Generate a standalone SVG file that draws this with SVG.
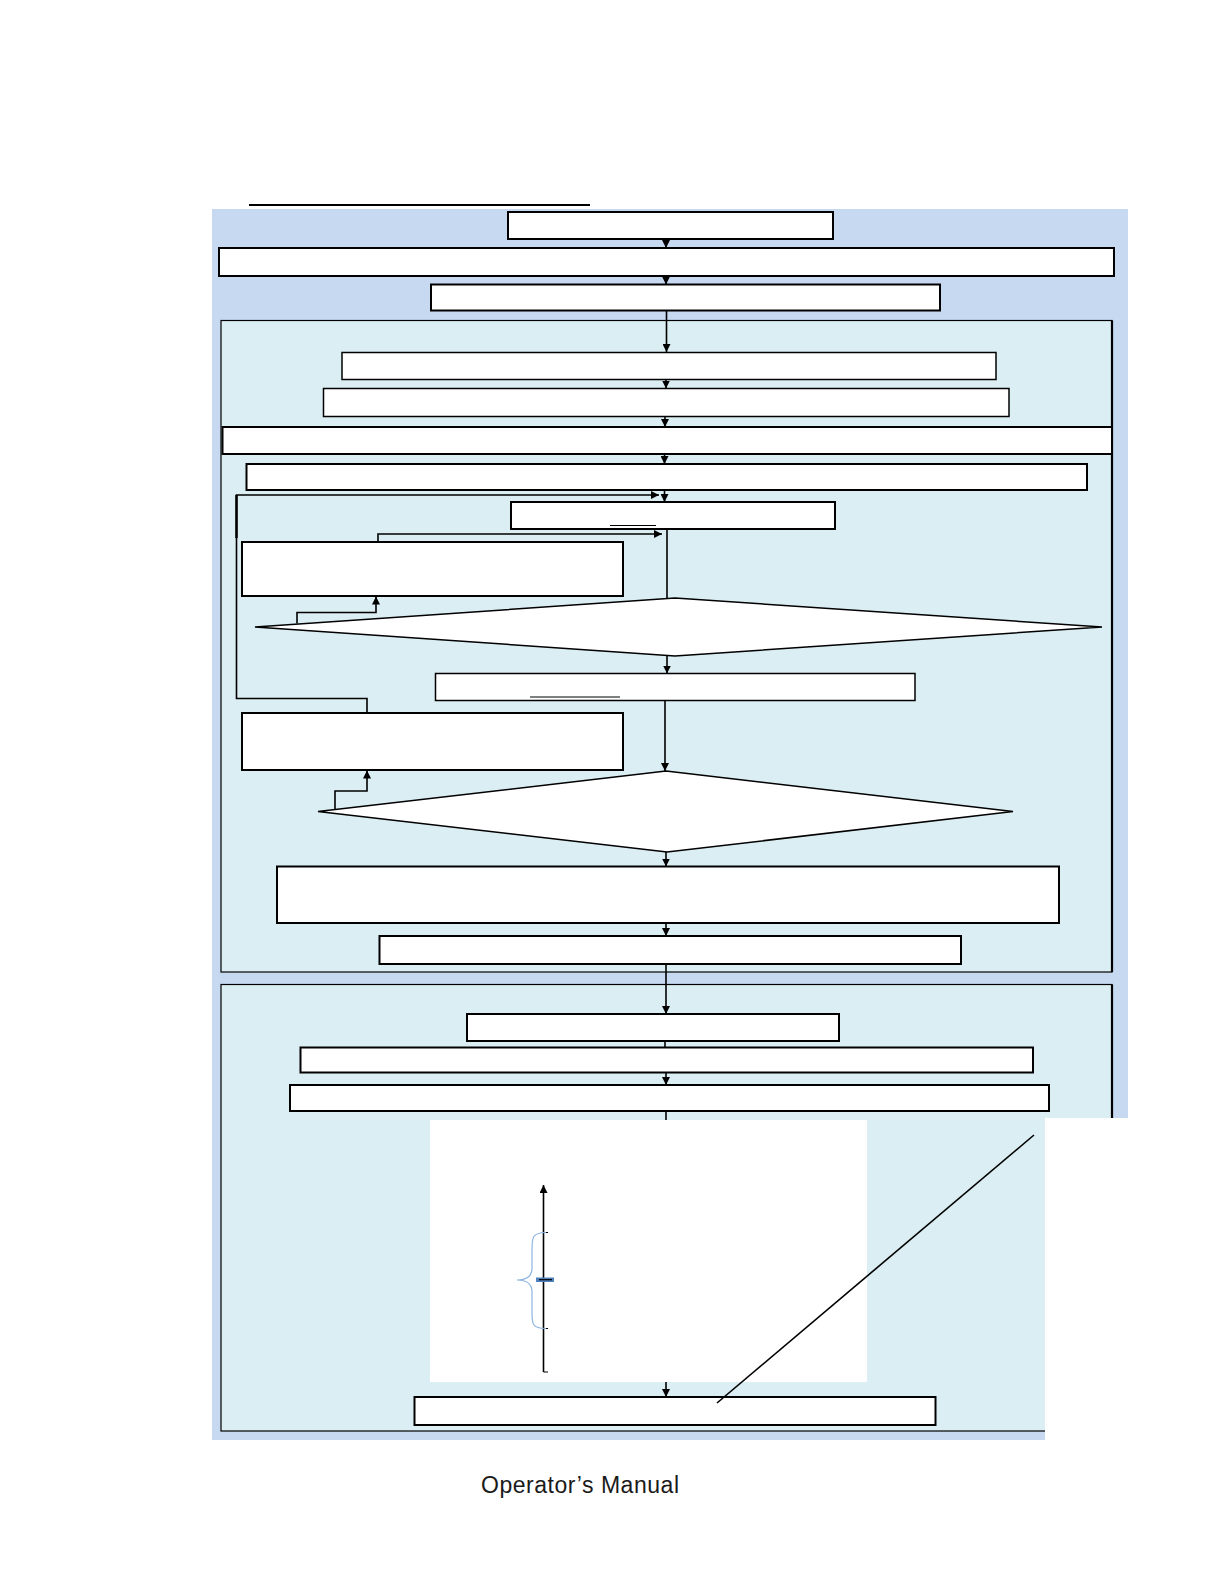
<svg xmlns="http://www.w3.org/2000/svg" width="1224" height="1584" viewBox="0 0 1224 1584">
<style>
.box{fill:#fff;stroke:#000;stroke-width:2}
.thin{fill:#fff;stroke:#000;stroke-width:1.5}
.sec{fill:#dbeef3;stroke:#000;stroke-width:1.2}
.con{fill:none;stroke:#000;stroke-width:1.6}
.txt{font-family:"Liberation Sans","DejaVu Sans",sans-serif}
</style>
<defs>
<marker id="ah" viewBox="0 0 10 10" refX="10" refY="5" markerWidth="8" markerHeight="8" markerUnits="userSpaceOnUse" orient="auto">
<path d="M0,0 L10,5 L0,10 z" fill="#000"/>
</marker>
</defs>
<rect width="1224" height="1584" fill="#fff"/>
<line x1="249" y1="205" x2="590" y2="205" stroke="#000" stroke-width="2"/>
<rect id="background" x="212" y="209" width="916" height="1231" fill="#c6d9f1"/>
<g id="section1"><rect class="sec" x="221" y="320.5" width="891" height="651.5"/><line x1="1112" y1="320.5" x2="1112" y2="972" stroke="#000" stroke-width="2.2"/></g>
<g id="section2"><rect class="sec" x="221" y="984.5" width="891" height="446.5"/><line x1="1112" y1="984.5" x2="1112" y2="1118" stroke="#000" stroke-width="2.2"/></g>
<rect x="1045" y="1118" width="179" height="340" fill="#fff"/>
<rect id="panel" x="430" y="1120" width="437" height="262" fill="#fff"/>
<g id="n1"><rect class="box" x="508" y="212" width="325" height="27"/></g>
<g id="n2"><rect class="box" x="219" y="248" width="895" height="28"/></g>
<g id="n3"><rect class="box" x="431" y="284.5" width="509" height="26"/></g>
<g id="n4"><rect class="thin" x="342" y="352.5" width="654" height="27"/></g>
<g id="n5"><rect class="thin" x="323.5" y="388.5" width="685.5" height="28"/></g>
<g id="n6"><rect class="box" x="222.5" y="427" width="889.5" height="27"/></g>
<g id="n7"><rect class="box" x="246.5" y="464" width="840.5" height="26"/></g>
<g id="n8"><rect class="box" x="511" y="502" width="324" height="27"/><line x1="610" y1="525.5" x2="656" y2="525.5" stroke="#000" stroke-width="1"/></g>
<g id="n9"><rect class="box" x="242" y="542" width="381" height="54"/></g>
<g id="d1"><polygon class="thin" points="675,598 1102,627 675,656 255,627"/></g>
<g id="n10"><rect class="thin" x="435.5" y="673.5" width="479.5" height="27"/><line x1="530" y1="697" x2="620" y2="697" stroke="#000" stroke-width="1"/></g>
<g id="n11"><rect class="box" x="242" y="713" width="381" height="57"/></g>
<g id="d2"><polygon class="thin" points="666,771 1013,811.5 667,852 318,811.5"/></g>
<g id="n12"><rect class="box" x="277" y="866.5" width="782" height="56.5"/></g>
<g id="n13"><rect class="box" x="379.5" y="936" width="581.5" height="28"/></g>
<g id="n14"><rect class="box" x="467" y="1014" width="372" height="27"/></g>
<g id="n15"><rect class="box" x="300.5" y="1047.5" width="732.5" height="25"/></g>
<g id="n16"><rect class="box" x="290" y="1085" width="759" height="26"/></g>
<g id="n17"><rect class="box" x="414.5" y="1397" width="521" height="28"/></g>
<g id="axis">
<line x1="543.5" y1="1372" x2="543.5" y2="1185" stroke="#000" stroke-width="1.6" marker-end="url(#ah)"/>
<line x1="543.5" y1="1372" x2="548" y2="1372" stroke="#000" stroke-width="1"/>
<line x1="543.5" y1="1232.5" x2="548" y2="1232.5" stroke="#000" stroke-width="1"/>
<line x1="543.5" y1="1328.5" x2="548" y2="1328.5" stroke="#000" stroke-width="1"/>
<path d="M546,1232.5 C532,1232.5 532,1238 532,1250 L532,1268 C532,1278 524,1280 517,1280 C524,1280 532,1282 532,1292 L532,1312 C532,1324 532,1328.5 546,1328.5" fill="none" stroke="#8eb4e3" stroke-width="1.2"/>
<rect x="536" y="1277.5" width="18" height="4.5" fill="#4f81bd"/>
<line x1="539" y1="1279.7" x2="552" y2="1279.7" stroke="#000" stroke-width="1.2"/>
</g>
<g id="connectors">
<line class="con" x1="666" y1="239" x2="666" y2="248" marker-end="url(#ah)"/>
<line class="con" x1="666" y1="276" x2="666" y2="284.5" marker-end="url(#ah)"/>
<line class="con" x1="666.5" y1="311" x2="666.5" y2="352" stroke-width="2" marker-end="url(#ah)"/>
<line class="con" x1="666" y1="379.5" x2="666" y2="388.5" marker-end="url(#ah)"/>
<line class="con" x1="665" y1="416.5" x2="665" y2="427" marker-end="url(#ah)"/>
<line class="con" x1="664.5" y1="454" x2="664.5" y2="464" marker-end="url(#ah)"/>
<line class="con" x1="664.5" y1="490" x2="664.5" y2="502" marker-end="url(#ah)"/>
<path class="con" d="M367,713 V698.5 H236.5 V495 H659" marker-end="url(#ah)"/>
<line x1="236.5" y1="495" x2="236.5" y2="538" stroke="#000" stroke-width="2.5"/>
<path class="con" d="M378,542 V534 H662" stroke-width="2" marker-end="url(#ah)"/>
<line class="con" x1="667" y1="529" x2="667" y2="598" stroke-width="2"/>
<path class="con" d="M297,623.5 V612.5 H376 V596.5" stroke-width="2" marker-end="url(#ah)"/>
<line class="con" x1="667" y1="656" x2="667" y2="673.5" marker-end="url(#ah)"/>
<line class="con" x1="665" y1="700.5" x2="665" y2="771" stroke-width="2" marker-end="url(#ah)"/>
<path class="con" d="M335,809.5 V791 H367 V770.5" stroke-width="2" marker-end="url(#ah)"/>
<line class="con" x1="666" y1="852" x2="666" y2="866.5" marker-end="url(#ah)"/>
<line class="con" x1="666" y1="923" x2="666" y2="936" marker-end="url(#ah)"/>
<line class="con" x1="666" y1="964" x2="666" y2="1014" stroke-width="2" marker-end="url(#ah)"/>
<line class="con" x1="665" y1="1041" x2="665" y2="1047.5" stroke-width="2"/>
<line class="con" x1="666" y1="1072.5" x2="666" y2="1085" marker-end="url(#ah)"/>
<line class="con" x1="666" y1="1111" x2="666" y2="1120" stroke-width="2"/>
<line class="con" x1="666" y1="1382" x2="666" y2="1397" marker-end="url(#ah)"/>
<line class="con" x1="1034" y1="1135" x2="717" y2="1403"/>
</g>
<text class="txt" x="481" y="1493" font-size="23" fill="#1a1a1a" textLength="198">Operator’s Manual</text>
</svg>
